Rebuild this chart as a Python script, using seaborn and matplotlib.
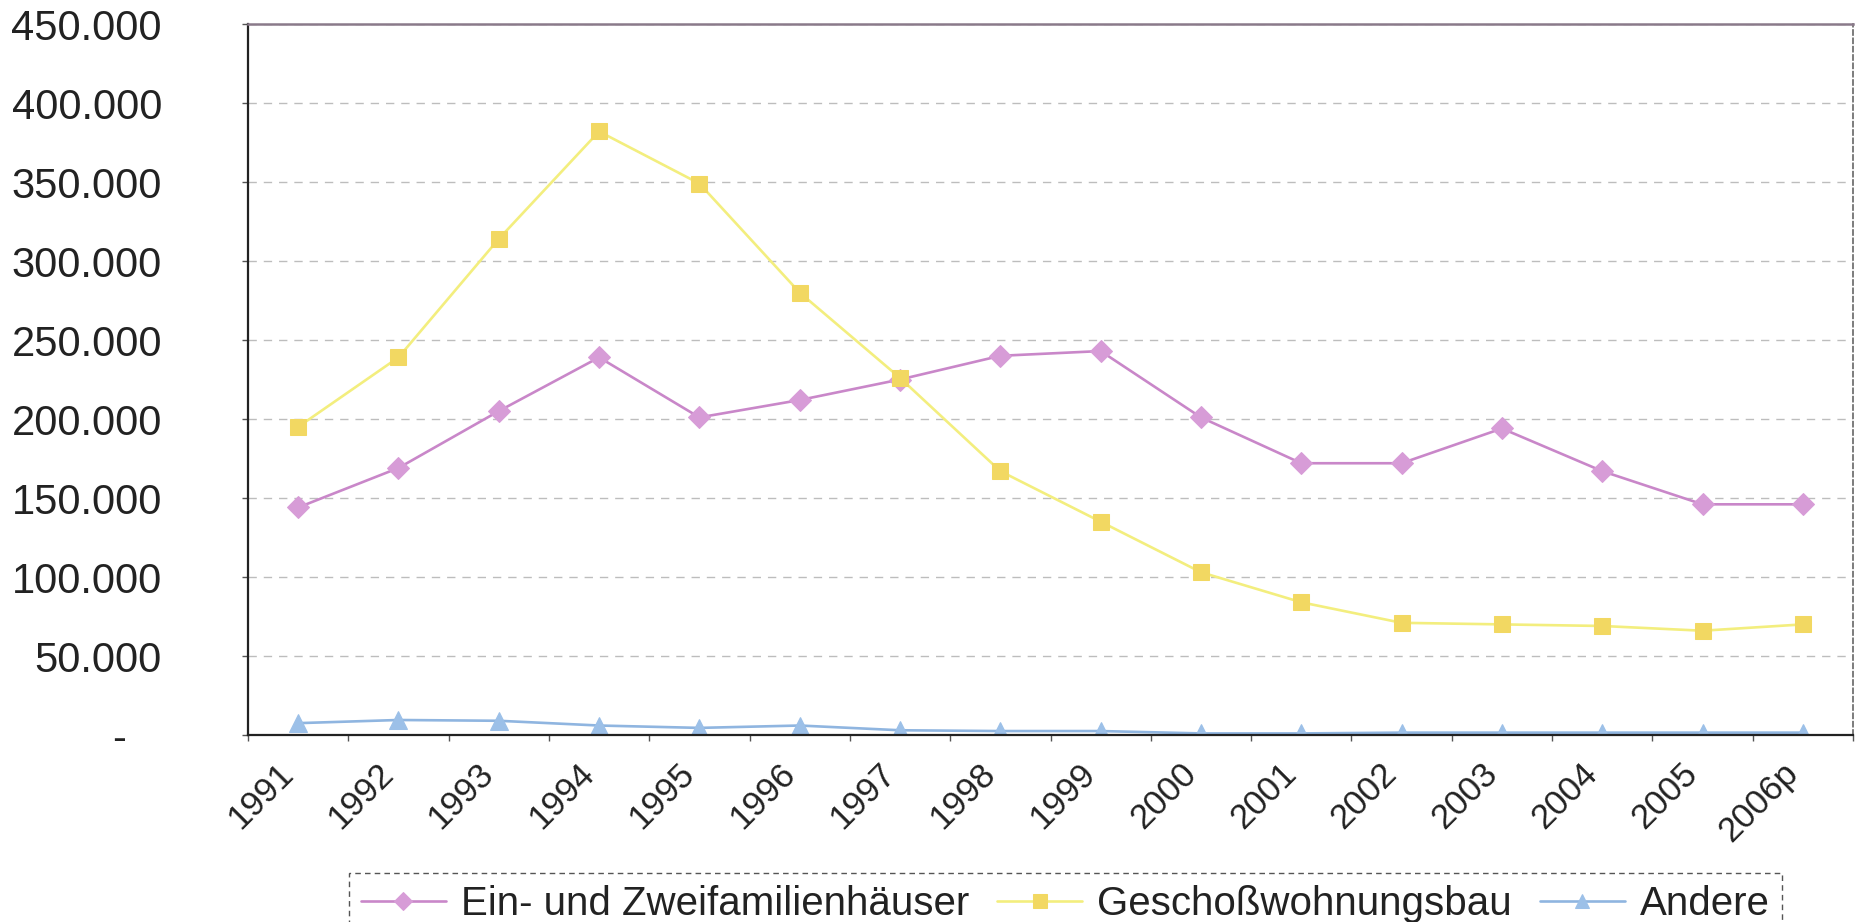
import pandas as pd
import matplotlib
matplotlib.use('Agg')
import matplotlib.pyplot as plt
import matplotlib.transforms as mtransforms
import seaborn as sns
import numpy as np

# Baufertigstellungen nach Gebaeudeart
years = ['1991', '1992', '1993', '1994', '1995', '1996', '1997', '1998',
         '1999', '2000', '2001', '2002', '2003', '2004', '2005', '2006p']
ein_zwei = [144000, 169000, 205000, 239000, 201000, 212000, 225000, 240000,
            243000, 201000, 172000, 172000, 194000, 167000, 146000, 146000]
geschoss = [195000, 239000, 314000, 382000, 349000, 280000, 226000, 167000,
            135000, 103000, 84000, 71000, 70000, 69000, 66000, 70000]
andere = [7500, 9500, 9000, 6000, 4500, 6000, 3000, 2500,
          2500, 1000, 1000, 1500, 1500, 1500, 1500, 1500]
series_names = ['Ein- und Zweifamilienhäuser', 'Geschoßwohnungsbau', 'Andere']
y_ticks = [0, 50000, 100000, 150000, 200000, 250000, 300000, 350000, 400000, 450000]

df = pd.DataFrame({'Jahr': years, series_names[0]: ein_zwei,
                   series_names[1]: geschoss, series_names[2]: andere})
df['pos'] = np.arange(len(years))

sns.set_style('white')
plt.rcParams['font.family'] = ['Liberation Sans', 'DejaVu Sans']

fig = plt.figure(figsize=(18.61, 9.22), dpi=100)
ax = fig.add_axes([248 / 1861, 1 - 735 / 922, 1605 / 1861, 711 / 922])

styles = [
    (series_names[0], '#C987C9', '#D79CD7', 'D', 11),
    (series_names[1], '#F3EE7E', '#F2D862', 's', 12),
    (series_names[2], '#8FB5E0', '#9CC0E8', '^', 13),
]
for name, lc, mc, mk, ms in styles:
    sns.lineplot(data=df, x='pos', y=name, ax=ax, color=lc, linewidth=1.9,
                 marker=mk, markersize=ms, markerfacecolor=mc,
                 markeredgecolor=mc, label=name)

ax.set_xlim(-0.5, len(years) - 0.5)
ax.set_ylim(0, 450000)
ax.set_xlabel('')
ax.set_ylabel('')

ax.set_yticks(y_ticks)
ylabels = ['-   ' if v == 0 else f'{v:,}'.replace(',', '.') for v in y_ticks]
ax.set_yticklabels(ylabels, fontsize=30, color='#222222')
ax.tick_params(axis='y', length=4, width=1, color='#555555', pad=58, left=True)

ax.set_xticks(df['pos'])
ax.set_xticklabels(years, fontsize=25, color='#222222', rotation=45,
                   ha='right', va='center', rotation_mode='anchor')
ax.tick_params(axis='x', length=0, pad=24)
# Beschriftungen leicht nach links schieben wie im Original
shift = mtransforms.ScaledTranslation(-10 / 100, 0, fig.dpi_scale_trans)
for lbl in ax.get_xticklabels():
    lbl.set_transform(lbl.get_transform() + shift)
ax.set_xticks(np.arange(-0.5, len(years)), minor=True)
ax.tick_params(axis='x', which='minor', length=4, width=1, color='#555555', bottom=True)

ax.grid(axis='y', color='#bdbdbd', linestyle=(0, (6, 5)), linewidth=1)

ax.spines['left'].set_color('#222222')
ax.spines['left'].set_linewidth(1.6)
ax.spines['bottom'].set_color('#222222')
ax.spines['bottom'].set_linewidth(1.6)
ax.spines['top'].set_color('#8a7a8a')
ax.spines['top'].set_linewidth(1.8)
ax.spines['right'].set_color('#666666')
ax.spines['right'].set_linestyle((0, (3, 2)))
ax.spines['right'].set_linewidth(1.2)

ax.get_legend().remove()
handles, labels = ax.get_legend_handles_labels()
leg = fig.legend(handles, labels, loc='upper left',
                 bbox_to_anchor=(349 / 1861, 1 - 873 / 922), ncol=3,
                 fontsize=29, handlelength=2.1, handletextpad=0.38,
                 columnspacing=0.7, borderpad=0.3, borderaxespad=0,
                 fancybox=False, framealpha=1, markerscale=0.8)
leg.get_frame().set_edgecolor('#555555')
leg.get_frame().set_linewidth(1)
leg.get_frame().set_linestyle((0, (4, 3)))
for t in leg.get_texts():
    t.set_color('#222222')

fig.savefig('out.png', dpi=100)
